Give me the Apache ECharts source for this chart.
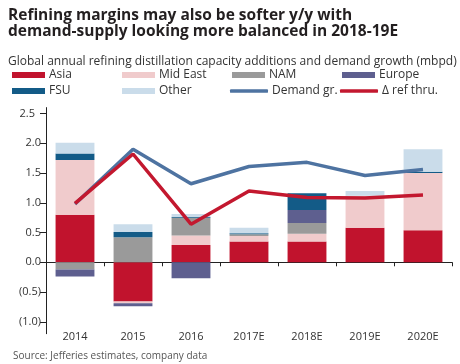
<!DOCTYPE html>
<html><head><meta charset="utf-8">
<script src="https://cdn.jsdelivr.net/npm/echarts@6/dist/echarts.min.js"></script>
<style>html,body{margin:0;padding:0;background:#fff}#c{width:460px;height:364px}</style>
</head><body><div id="c"></div>
<script>
const categories = ['2014','2015','2016','2017E','2018E','2019E','2020E'];
const asia     = [0.80, -0.66, 0.29, 0.35, 0.35, 0.58, 0.54];
const midEast  = [0.92, -0.03, 0.16, 0.09, 0.13, 0.54, 0.96];
const nam      = [-0.12, 0.42, 0.30, 0.03, 0.18, 0, 0];
const europe   = [-0.12, -0.05, -0.27, 0, 0.22, 0, 0];
const fsu      = [0.11, 0.09, 0.01, 0.02, 0.28, 0, 0.02];
const other    = [0.18, 0.13, 0.05, 0.09, 0, 0.08, 0.38];
const demandGr = [0.98, 1.90, 1.32, 1.61, 1.68, 1.46, 1.56];
const refThru  = [0.99, 1.82, 0.64, 1.20, 1.09, 1.08, 1.13];
const yTicks   = [-1.0, -0.5, 0, 0.5, 1.0, 1.5, 2.0, 2.5];

const FONT = '"Open Sans", "Noto Sans", sans-serif';
const colors = {
  'Asia': '#c1132d', 'Mid East': '#f0cbcc', 'NAM': '#9a9a9a', 'Europe': '#5e5f8f',
  'FSU': '#135b87', 'Other': '#cadcea', 'Demand gr.': '#4e73a1', 'Δ ref thru.': '#c3182f'
};
const barSeries = [['Asia', asia], ['Mid East', midEast], ['NAM', nam], ['Europe', europe], ['FSU', fsu], ['Other', other]];

const series = barSeries.map(([name, data]) => ({
  name, type: 'bar', stack: 'cap', data, barCategoryGap: '33%',
  itemStyle: { color: colors[name] }
}));
series.push({ name: 'Demand gr.', type: 'line', data: demandGr, showSymbol: false, symbol: 'none',
  lineStyle: { color: colors['Demand gr.'], width: 3.5 }, itemStyle: { color: colors['Demand gr.'] }, z: 3 });
series.push({ name: 'Δ ref thru.', type: 'line', data: refThru, showSymbol: false, symbol: 'none',
  lineStyle: { color: colors['Δ ref thru.'], width: 3.5 }, itemStyle: { color: colors['Δ ref thru.'] }, z: 4 });

const legendPos = [
  ['Asia', 12, 69, 'rect'], ['Mid East', 122, 69, 'rect'], ['NAM', 232, 69, 'rect'], ['Europe', 342, 69, 'rect'],
  ['FSU', 12, 85, 'rect'], ['Other', 122, 85, 'rect'], ['Demand gr.', 230, 85, 'line'], ['Δ ref thru.', 340, 85, 'line']
];
const legends = legendPos.map(([name, left, top, kind]) => ({
  data: [name], left, top,
  icon: kind === 'rect' ? 'rect' : 'roundRect',
  itemWidth: kind === 'rect' ? 33 : 38,
  itemHeight: kind === 'rect' ? 6 : 3.5,
  itemGap: 4, padding: 0,
  textStyle: { fontFamily: FONT, fontSize: 12, color: '#333', padding: [0, 0, 0, -1] },
  selectedMode: false
}));

const yMaxLabel = yTicks[yTicks.length - 1];
const yLabelTicks = yTicks.slice(0, -1);

const chart = echarts.init(document.getElementById('c'), null, { renderer: 'canvas' });
chart.setOption({
  animation: false,
  title: [
    { text: 'Refining margins may also be softer y/y with\ndemand-supply looking more balanced in 2018-19E', left: 8, top: 8,
      padding: 0, textStyle: { fontFamily: FONT, fontWeight: 'bold', fontSize: 15.5, lineHeight: 15.5, color: '#231f20' } },
    { text: 'Global annual refining distillation capacity additions and demand growth (mbpd)', left: 8, top: 56,
      padding: 0, textStyle: { fontFamily: FONT, fontWeight: 'normal', fontSize: 12, color: '#333' } },
    { text: 'Source: Jefferies estimates, company data', left: 13, top: 351,
      padding: 0, textStyle: { fontFamily: FONT, fontWeight: 'normal', fontSize: 10, color: '#555' } }
  ],
  legend: legends,
  grid: { left: 46, right: 8, top: 107.6, bottom: 30.3, containLabel: false },
  xAxis: [
    { type: 'category', data: categories, axisLine: { onZero: true, lineStyle: { color: '#222', width: 1 } },
      axisTick: { show: true, alignWithLabel: false, length: 4, inside: false, lineStyle: { color: '#222' } },
      axisLabel: { show: false }, splitLine: { show: false } },
    { type: 'category', data: categories, position: 'bottom', axisLine: { show: false }, axisTick: { show: false },
      axisLabel: { show: true, fontFamily: FONT, fontSize: 11, color: '#333', margin: -2 }, splitLine: { show: false } }
  ],
  yAxis: {
    type: 'value', min: -1.2, max: 2.6,
    name: yMaxLabel.toFixed(1), nameLocation: 'end', nameGap: -6, nameMoveOverlap: false,
    nameTextStyle: { fontFamily: FONT, fontSize: 11, color: '#333', align: 'right', verticalAlign: 'middle', padding: [0, 11, 0, 0] },
    axisLine: { show: true, lineStyle: { color: '#222' } },
    axisTick: { show: true, length: 6, lineStyle: { color: '#222' }, customValues: yTicks },
    splitLine: { show: false },
    axisLabel: { fontFamily: FONT, fontSize: 11, color: '#333', margin: 5, customValues: yLabelTicks,
      formatter: v => v < 0 ? '(' + Math.abs(v).toFixed(1) + ')' : v.toFixed(1) }
  },
  series
});
</script></body></html>
